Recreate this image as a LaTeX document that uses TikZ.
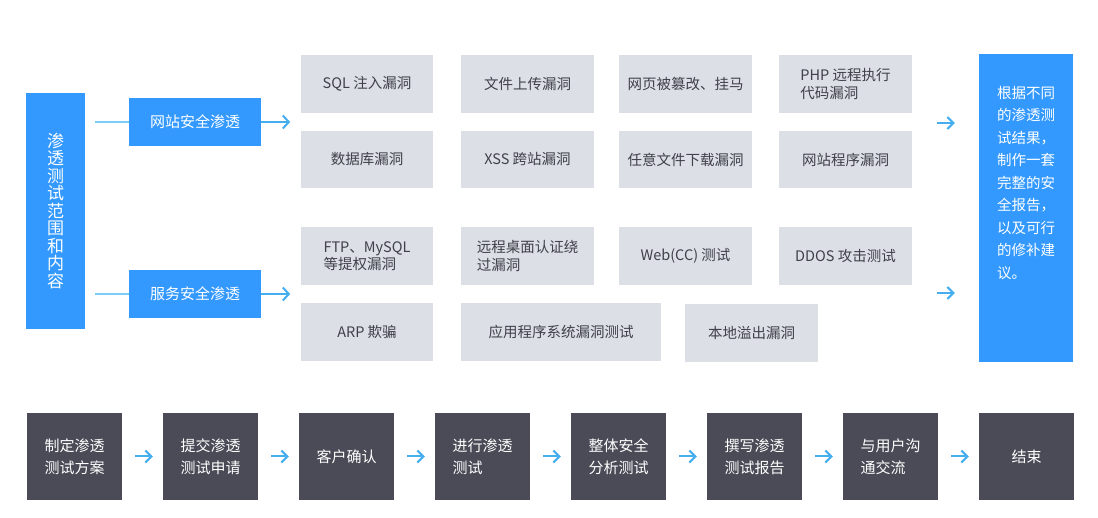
\documentclass[tikz,border=0pt]{standalone}
\usepackage{fontspec}
\setmainfont{Noto Sans CJK SC}
\usetikzlibrary{arrows.meta,calc}
\definecolor{bblue}{HTML}{3399FF}
\definecolor{gfill}{HTML}{DCDFE6}
\definecolor{dfill}{HTML}{4A4B56}
\definecolor{gtext}{HTML}{3F4049}
\definecolor{lineblue}{HTML}{7ACDF4}
\definecolor{arrblue}{HTML}{44AEEE}
\begin{document}
\begin{tikzpicture}[x=1pt,y=-1pt,
  gbox/.style={fill=gfill, text=gtext, inner sep=0pt, minimum width=133pt, minimum height=58pt, align=left, font=\fontsize{14.5}{17.5}\selectfont},
  bbox/.style={fill=bblue, text=white, inner sep=0pt, font=\fontsize{15}{18}\selectfont},
  dbox/.style={fill=dfill, text=white, inner sep=0pt, minimum width=95pt, minimum height=87pt, align=left, font=\fontsize{15}{22}\selectfont},
  conn/.style={draw=lineblue, line width=2pt},
  arr/.style={draw=arrblue, line width=2pt, -{Straight Barb[length=6pt,width=13pt]}},
  sarr/.style={draw=arrblue, line width=2pt, -{Straight Barb[length=6pt,width=12pt]}},
]
\useasboundingbox[fill=white] (0,0) rectangle (1098,518);

% left column
\node[bbox, minimum width=59pt, minimum height=236pt, align=center, font=\fontsize{17}{17.5}\selectfont] (lb) at (55.5,211) {渗\\透\\测\\试\\范\\围\\和\\内\\容};
\node[bbox, minimum width=132pt, minimum height=48pt] (web) at (195,122) {网站安全渗透};
\node[bbox, minimum width=132pt, minimum height=48pt] (srv) at (195,294) {服务安全渗透};

\draw[conn] ($(lb.east |- web.west)+(10,0)$) -- (web.west);
\draw[conn] ($(lb.east |- srv.west)+(10,0)$) -- (srv.west);
\draw[arr] (web.east) -- ++(29,0) coordinate (webend);
\draw[arr] (srv.east) -- ++(29,0) coordinate (srvend);

% gray boxes
\node[gbox, minimum width=132pt] (sql) at (367,84) {SQL 注入漏洞};
\node[gbox] (upl) at (527.5,84) {文件上传漏洞};
\node[gbox] (tam) at (685.5,84) {网页被篡改、挂马};
\node[gbox] (php) at (845.5,84) {PHP 远程执行\\代码漏洞};

\node[gbox, minimum width=132pt, minimum height=57pt] (db) at (367,159.5) {数据库漏洞};
\node[gbox, minimum height=57pt] (xss) at (527.5,159.5) {XSS 跨站漏洞};
\node[gbox, minimum height=57pt] (dl) at (685.5,159.5) {任意文件下载漏洞};
\node[gbox, minimum height=57pt] (prog) at (845.5,159.5) {网站程序漏洞};

\node[gbox, minimum width=132pt] (ftp) at (367,256) {FTP、MySQL\\等提权漏洞};
\node[gbox] (rdp) at (527.5,256) {远程桌面认证绕\\过漏洞};
\node[gbox] (cc) at (685.5,256) {Web(CC) 测试};
\node[gbox] (ddos) at (845.5,256) {DDOS 攻击测试};

\node[gbox, minimum width=132pt] (arp) at (367,332) {ARP 欺骗};
\node[gbox, minimum width=200pt] (app) at (561,332) {应用程序系统漏洞测试};
\node[gbox] (ovf) at (751.5,333) {本地溢出漏洞};

% right box
\node[fill=bblue, inner sep=0pt, minimum width=94pt, minimum height=308pt] (rb) at (1026,208) {};
\node[anchor=north west, inner sep=0pt, text=white, align=left, font=\fontsize{14.5}{22.5}\selectfont] (rbt) at ($(rb.north west)+(18,32)$) {根据不同\\的渗透测\\试结果，\\制作一套\\完整的安\\全报告，\\以及可行\\的修补建\\议。};

\draw[sarr] ($(php.east |- web.east)+(25,1)$) -- ($(rb.west |- web.east)+(-24,1)$);
\draw[sarr] ($(php.east |- srv.east)+(25,-1)$) -- ($(rb.west |- srv.east)+(-24,-1)$);

% bottom process
\node[dbox] (b1) at (74.5,456.5) {制定渗透\\测试方案};
\node[dbox] (b2) at (210.5,456.5) {提交渗透\\测试申请};
\node[dbox] (b3) at (346.5,456.5) {客户确认};
\node[dbox] (b4) at (482.5,456.5) {进行渗透\\测试};
\node[dbox] (b5) at (618.5,456.5) {整体安全\\分析测试};
\node[dbox] (b6) at (754.5,456.5) {撰写渗透\\测试报告};
\node[dbox] (b7) at (890.5,456.5) {与用户沟\\通交流};
\node[dbox] (b8) at (1026.5,456.5) {结束};

\foreach \a/\b in {b1/b2,b2/b3,b3/b4,b4/b5,b5/b6,b6/b7,b7/b8}
  \draw[sarr] ($(\a.east)+(13,0)$) -- ($(\b.west)+(-10,0)$);
\end{tikzpicture}
\end{document}
